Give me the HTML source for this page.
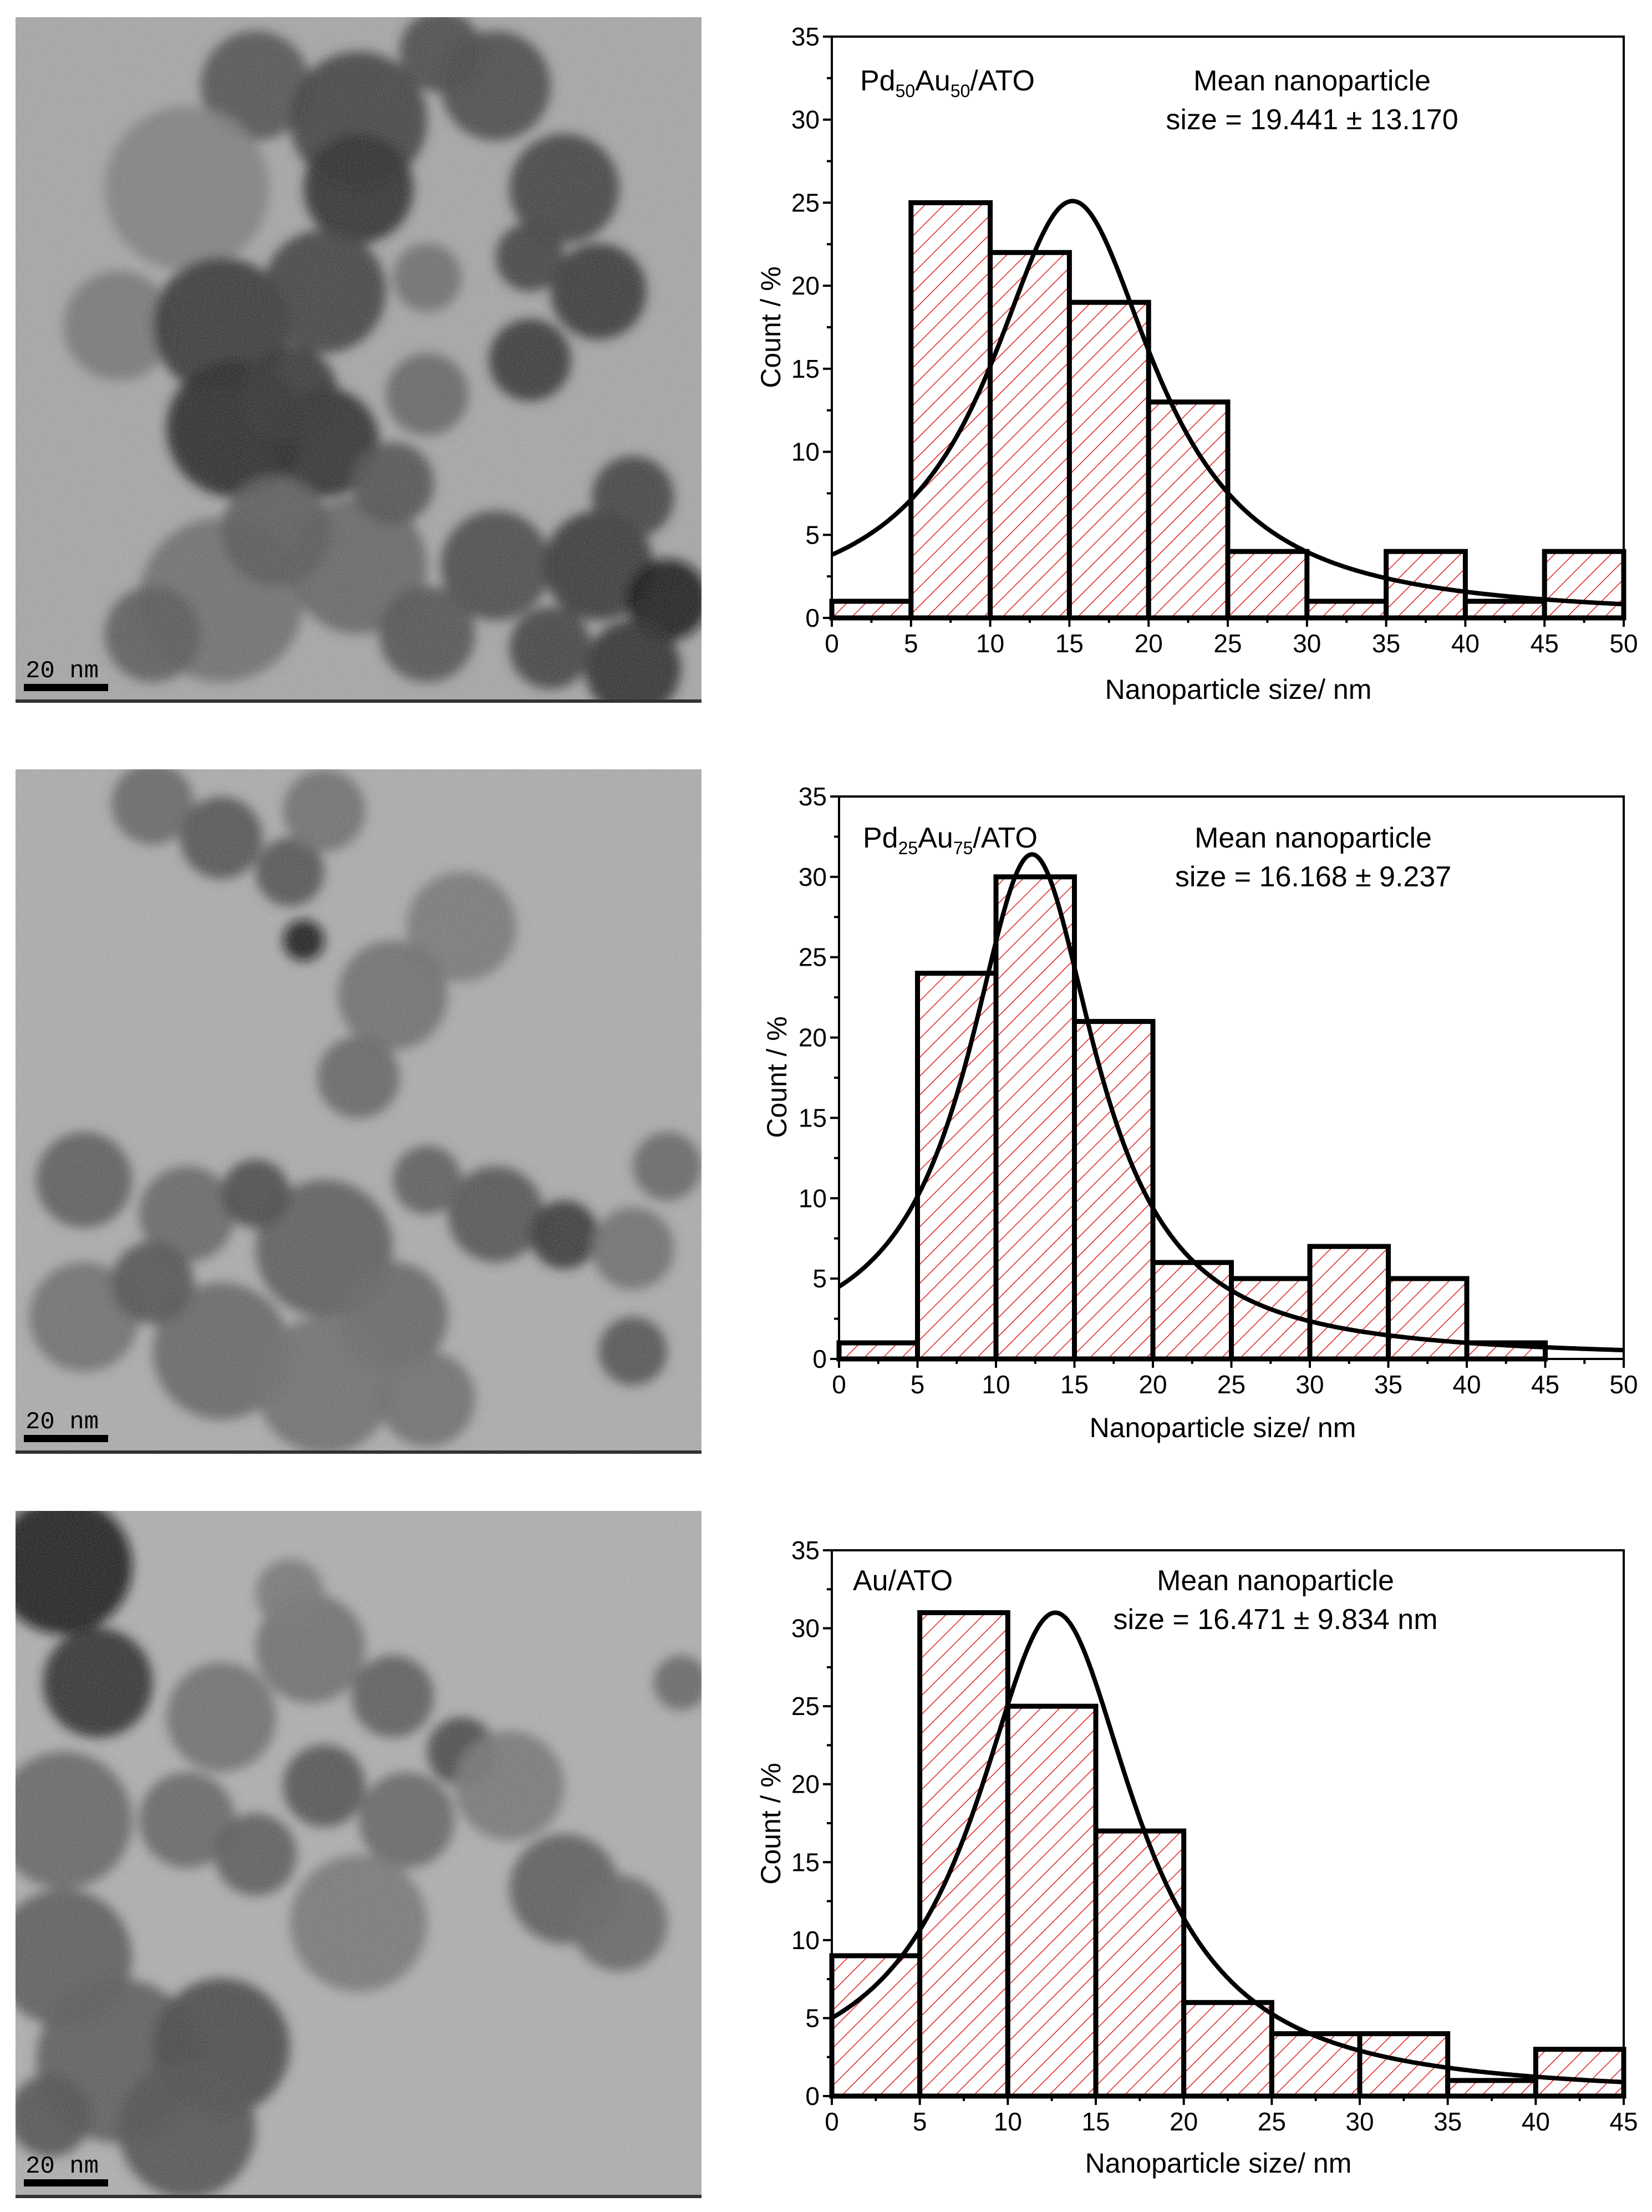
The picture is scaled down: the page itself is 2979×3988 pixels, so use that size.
<!DOCTYPE html>
<html><head><meta charset="utf-8"><style>
html,body{margin:0;padding:0;background:#fff;}
svg{display:block;font-family:"Liberation Sans Narrow","Liberation Sans",sans-serif;}
</style></head><body>
<svg id="root" width="2979" height="3988" viewBox="0 0 2979 3988" xmlns="http://www.w3.org/2000/svg">
<defs>
<pattern id="hatch" patternUnits="userSpaceOnUse" width="24" height="24" patternTransform="rotate(45)">
<rect width="24" height="24" fill="#fff"/>
<line x1="0" y1="0" x2="0" y2="24" stroke="#e02020" stroke-width="3"/>
</pattern>
<filter id="blur" x="-20%" y="-20%" width="140%" height="140%"><feGaussianBlur stdDeviation="10"/></filter>
<filter id="noise"><feTurbulence type="fractalNoise" baseFrequency="0.5" numOctaves="2" seed="3"/><feColorMatrix type="saturate" values="0"/><feComponentTransfer><feFuncA type="linear" slope="0.5"/></feComponentTransfer></filter>
</defs>
</svg>
<script>
// ---- chart data ----
const bins1 = [0,5,10,15,20,25,30,35,40,45];
const counts1 = [1,25,22,19,13,4,1,4,1,4];
const fit1 = [25.1, 15.2, 6.42]; // amplitude, centre, half width
const bins2 = [0,5,10,15,20,25,30,35,40,45];
const counts2 = [1,24,30,21,6,5,7,5,1,0];
const fit2 = [31.4, 12.3, 5.03];
const bins3 = [0,5,10,15,20,25,30,35,40];
const counts3 = [9,31,25,17,6,4,4,1,3];
const fit3 = [31.0, 12.7, 5.57];
const yTicks = [0,5,10,15,20,25,30,35];
const xTicks50 = [0,5,10,15,20,25,30,35,40,45,50];
const xTicks45 = [0,5,10,15,20,25,30,35,40,45];

// ---- TEM decorative blobs [u,v,r,gray] ----
const tem1 = [[0.35,0.1,0.08,90],[0.5,0.15,0.1,70],[0.7,0.1,0.08,80],[0.8,0.25,0.08,70],[0.85,0.4,0.07,60],[0.5,0.25,0.08,50],[0.25,0.25,0.12,140],[0.15,0.45,0.08,130],[0.3,0.45,0.1,60],[0.45,0.4,0.09,70],[0.32,0.6,0.1,45],[0.45,0.62,0.08,50],[0.4,0.55,0.07,60],[0.6,0.55,0.06,110],[0.75,0.5,0.06,60],[0.3,0.85,0.12,120],[0.5,0.8,0.1,110],[0.7,0.8,0.08,80],[0.85,0.8,0.08,60],[0.95,0.85,0.06,30],[0.9,0.7,0.06,70],[0.6,0.9,0.07,90],[0.2,0.9,0.07,100],[0.6,0.38,0.05,120],[0.62,0.05,0.06,80],[0.75,0.35,0.05,70],[0.38,0.75,0.08,100],[0.55,0.68,0.06,90],[0.9,0.95,0.07,50],[0.78,0.92,0.06,70]];
const tem2 = [[0.2,0.05,0.06,110],[0.3,0.1,0.06,90],[0.4,0.15,0.05,90],[0.45,0.06,0.06,120],[0.65,0.23,0.08,130],[0.55,0.33,0.08,120],[0.42,0.25,0.03,30],[0.5,0.45,0.06,110],[0.1,0.6,0.07,100],[0.25,0.65,0.07,110],[0.1,0.8,0.08,120],[0.3,0.85,0.1,110],[0.45,0.7,0.1,100],[0.55,0.8,0.08,110],[0.45,0.9,0.1,120],[0.7,0.65,0.07,90],[0.8,0.68,0.05,60],[0.9,0.7,0.06,120],[0.95,0.58,0.05,110],[0.9,0.85,0.05,90],[0.6,0.6,0.05,100],[0.2,0.75,0.06,90],[0.35,0.62,0.05,80],[0.6,0.92,0.07,120]];
const tem3 = [[0.07,0.08,0.1,30],[0.12,0.25,0.08,50],[0.07,0.45,0.1,110],[0.07,0.65,0.1,100],[0.3,0.3,0.08,120],[0.43,0.2,0.08,120],[0.55,0.27,0.06,100],[0.4,0.12,0.05,130],[0.25,0.45,0.07,110],[0.35,0.5,0.06,100],[0.45,0.4,0.06,90],[0.57,0.45,0.07,110],[0.65,0.35,0.05,80],[0.72,0.4,0.08,130],[0.8,0.55,0.08,100],[0.88,0.6,0.07,110],[0.5,0.6,0.1,130],[0.15,0.8,0.12,100],[0.3,0.78,0.1,80],[0.25,0.9,0.1,90],[0.05,0.88,0.06,90],[0.97,0.25,0.04,110]];

const NS = "http://www.w3.org/2000/svg";
const root = document.getElementById('root');
function mk(tag, attrs, parent){
  const e = document.createElementNS(NS, tag);
  for (const k in attrs) e.setAttribute(k, attrs[k]);
  (parent||root).appendChild(e);
  return e;
}

function drawTEM(name, x, y, w, h, bg, blobs){
  const g = mk('g', {});
  
  
  const cid = name + '-clip';
  const cp = mk('clipPath', {id: cid}, g);
  mk('rect', {x:x, y:y, width:w, height:h}, cp);
  const inner = mk('g', {'clip-path': 'url(#' + cid + ')'}, g);
  mk('rect', {x:x, y:y, width:w, height:h, fill:bg}, inner);
  const bl = mk('g', {filter:'url(#blur)'}, inner);
  blobs.forEach(b => {
    const c = Math.max(0, Math.round(b[3]) - 15);
    mk('circle', {cx: x + b[0]*w, cy: y + b[1]*h, r: b[2]*w, fill: 'rgb(' + c + ',' + c + ',' + c + ')', opacity: 0.92}, bl);
  });
  mk('rect', {x:x, y:y, width:w, height:h, filter:'url(#noise)', opacity:0.7}, inner);
  mk('rect', {x:x, y:y+h-6, width:w, height:6, fill:'#333'}, inner);
  const sb = mk('rect', {x:x+15, y:y+h-34, width:152, height:13, fill:'#000'}, g);
  
  
  const st = mk('text', {x:x+18, y:y+h-46, 'font-family':'"Liberation Mono",monospace', 'font-size':44, fill:'#000'}, g);
  st.textContent = '20 nm';
  
  
}

function drawChart(cfg){
  const g = mk('g', {});
  
  
  const xs = v => cfg.x0 + v / cfg.xmax * (cfg.x1 - cfg.x0);
  const ys = v => cfg.y0 - v / 35 * (cfg.y0 - cfg.y1);
  const cid = cfg.name + '-clip';
  const cp = mk('clipPath', {id: cid}, g);
  mk('rect', {x:cfg.x0, y:cfg.y1, width:cfg.x1-cfg.x0, height:cfg.y0-cfg.y1}, cp);

  const barsG = mk('g', {}, g);
  
  
  cfg.bins.forEach((b, i) => {
    const v = cfg.counts[i];
    if (v <= 0) return;
    const r = mk('rect', {x: xs(b), y: ys(v), width: xs(b+5) - xs(b), height: ys(0) - ys(v), fill:'url(#hatch)', stroke:'#000', 'stroke-width':9}, barsG);
    
    
  });

  const A = cfg.fit[0], xc = cfg.fit[1], w = cfg.fit[2];
  let d = '';
  for (let i = 0; i <= 400; i++){
    const xv = cfg.xmax * i / 400;
    const yv = A / (1 + Math.pow((xv - xc) / w, 2));
    d += (i ? 'L' : 'M') + xs(xv).toFixed(1) + ',' + ys(yv).toFixed(1);
  }
  const cv = mk('path', {d:d, fill:'none', stroke:'#000', 'stroke-width':8, 'clip-path':'url(#' + cid + ')'}, g);
  
  

  const fr = mk('rect', {x:cfg.x0, y:cfg.y1, width:cfg.x1-cfg.x0, height:cfg.y0-cfg.y1, fill:'none', stroke:'#000', 'stroke-width':4}, g);
  
  

  const yAx = mk('g', {}, g);
  
  
  for (let v = 0; v <= 35; v += 2.5){
    const major = (v % 5 === 0);
    mk('line', {x1:cfg.x0, x2:cfg.x0 - (major?16:9), y1:ys(v), y2:ys(v), stroke:'#000', 'stroke-width':4}, yAx);
  }
  yTicks.forEach(v => {
    const t = mk('text', {x:cfg.x0 - 22, y:ys(v) + 16, 'text-anchor':'end', 'font-size':46}, yAx);
    t.textContent = v;
    
    
  });
  const xAx = mk('g', {}, g);
  
  
  for (let v = 0; v <= cfg.xmax; v += 2.5){
    const major = (v % 5 === 0);
    mk('line', {x1:xs(v), x2:xs(v), y1:cfg.y0, y2:cfg.y0 + (major?16:9), stroke:'#000', 'stroke-width':4}, xAx);
  }
  cfg.xTicks.forEach(v => {
    const t = mk('text', {x:xs(v), y:cfg.y0 + 62, 'text-anchor':'middle', 'font-size':46}, xAx);
    t.textContent = v;
    
    
  });
  const xt = mk('text', {x:cfg.xlx, y:cfg.xly, 'text-anchor':'middle', 'font-size':50}, g);
  xt.textContent = 'Nanoparticle size/ nm';
  
  
  const yt = mk('text', {x:0, y:0, 'text-anchor':'middle', 'font-size':50, transform:'translate(' + cfg.ylx + ',' + cfg.yly + ') rotate(-90)'}, g);
  yt.textContent = 'Count / %';
  
  

  const sl = mk('text', {x:cfg.lx, y:cfg.ly, 'font-size':52}, g);
  
  
  cfg.label.forEach(p => {
    const ts = mk('tspan', p[1] ? {'font-size':32, dy:12} : {'font-size':52, dy: p[2] || 0}, sl);
    ts.textContent = p[0];
  });
  const m1 = mk('text', {x:cfg.mx, y:cfg.ly, 'text-anchor':'middle', 'font-size':52}, g);
  m1.textContent = 'Mean nanoparticle';
  
  
  const m2 = mk('text', {x:cfg.mx, y:cfg.ly + 70, 'text-anchor':'middle', 'font-size':52}, g);
  m2.textContent = cfg.meanText;
  
  
}

drawTEM('tem-image-pd50au50', 28, 31, 1237, 1236, '#a6a6a6', tem1);
drawTEM('tem-image-pd25au75', 28, 1387, 1237, 1234, '#acacac', tem2);
drawTEM('tem-image-au', 28, 2724, 1237, 1239, '#afafaf', tem3);

drawChart({name:'histogram-pd50au50', x0:1500, x1:2928, y0:1114, y1:66, xmax:50, bins:bins1, counts:counts1, fit:fit1, xTicks:xTicks50,
  xlx:2233, xly:1260, ylx:1407, yly:590, lx:1551, ly:163, mx:2366,
  label:[['Pd',0],['50',1],['Au',0,-12],['50',1],['/ATO',0,-12]], meanText:'size = 19.441 \u00b1 13.170'});
drawChart({name:'histogram-pd25au75', x0:1513, x1:2928, y0:2450, y1:1436, xmax:50, bins:bins2, counts:counts2, fit:fit2, xTicks:xTicks50,
  xlx:2205, xly:2591, ylx:1418, yly:1942, lx:1556, ly:1528, mx:2368,
  label:[['Pd',0],['25',1],['Au',0,-12],['75',1],['/ATO',0,-12]], meanText:'size = 16.168 \u00b1 9.237'});
drawChart({name:'histogram-au', x0:1500, x1:2928, y0:3779, y1:2795, xmax:45, bins:bins3, counts:counts3, fit:fit3, xTicks:xTicks45,
  xlx:2197, xly:3917, ylx:1407, yly:3288, lx:1538, ly:2867, mx:2300,
  label:[['Au/ATO',0]], meanText:'size = 16.471 \u00b1 9.834 nm'});
</script>
</body></html>
